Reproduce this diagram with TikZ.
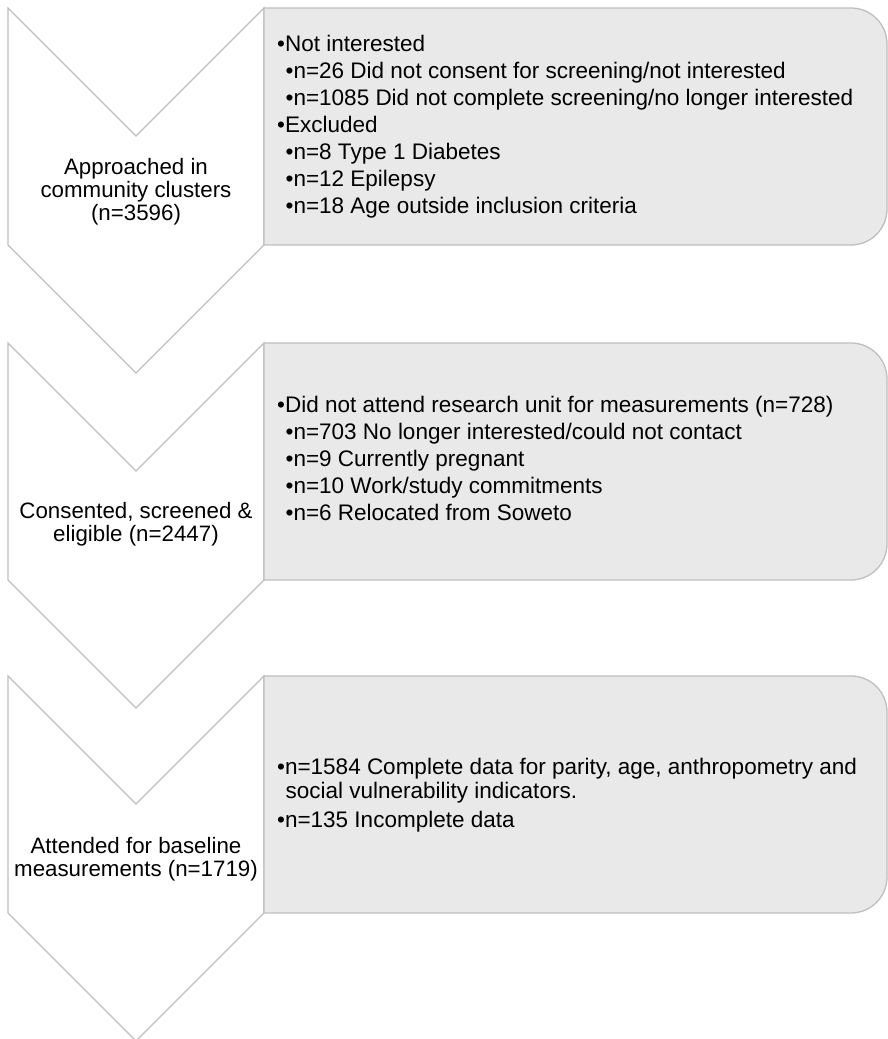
\documentclass[tikz,border=0pt]{standalone}
\usepackage{fontspec}
\setmainfont{Liberation Sans}
\definecolor{edgegray}{HTML}{BFBFBF}
\definecolor{boxfill}{HTML}{E9E9E9}
\begin{document}
\begin{tikzpicture}[x=1pt,y=1pt,
  chev/.style={draw=edgegray, fill=white, line width=1.3pt, line join=miter},
  panel/.style={draw=edgegray, fill=boxfill, line width=1.3pt},
  chevtext/.style={anchor=base, inner sep=0pt, font=\fontsize{22.3}{22.7}\selectfont},
  paneltext/.style={anchor=base west, inner sep=0pt, font=\fontsize{22.5}{27}\selectfont}
]
\useasboundingbox (0,0) rectangle (888,1039);
% chevrons
\draw[chev] (8,1031) -- (136,903) -- (264,1031) -- (264,794) -- (136,666) -- (8,794) -- cycle;
\draw[chev] (8,696) -- (136,568) -- (264,696) -- (264,459) -- (136,331) -- (8,459) -- cycle;
\draw[chev] (8,363) -- (136,235) -- (264,363) -- (264,126) -- (136,-2) -- (8,126) -- cycle;
% panels
\draw[panel] (264,1031) -- (851,1031) arc[start angle=90,end angle=0,radius=36] -- (887,830) arc[start angle=0,end angle=-90,radius=36] -- (264,794) -- cycle;
\draw[panel] (264,696) -- (851,696) arc[start angle=90,end angle=0,radius=36] -- (887,495) arc[start angle=0,end angle=-90,radius=36] -- (264,459) -- cycle;
\draw[panel] (264,363) -- (851,363) arc[start angle=90,end angle=0,radius=36] -- (887,162) arc[start angle=0,end angle=-90,radius=36] -- (264,126) -- cycle;
% chevron texts
\node[chevtext] (c1) at (136,864) {\begin{tabular}[t]{@{}c@{}}Approached in\\community clusters\\(n=3596)\end{tabular}};
\node[chevtext] (c2) at (136,520) {\begin{tabular}[t]{@{}c@{}}Consented, screened \&\\eligible (n=2447)\end{tabular}};
\node[chevtext] (c3) at (136,185) {\begin{tabular}[t]{@{}c@{}}Attended for baseline\\measurements (n=1719)\end{tabular}};
% panel texts
\node[paneltext] (p1) at (277,987.5) {\begin{tabular}[t]{@{}l@{}}%
•Not interested\\
\hspace*{8.5pt}•n=26 Did not consent for screening/not interested\\
\hspace*{8.5pt}•n=1085 Did not complete screening/no longer interested\\
•Excluded\\
\hspace*{8.5pt}•n=8 Type 1 Diabetes\\
\hspace*{8.5pt}•n=12 Epilepsy\\
\hspace*{8.5pt}•n=18 Age outside inclusion criteria\end{tabular}};
\node[paneltext] (p2) at (277,626) {\begin{tabular}[t]{@{}l@{}}%
•Did not attend research unit for measurements (n=728)\\
\hspace*{8.5pt}•n=703 No longer interested/could not contact\\
\hspace*{8.5pt}•n=9 Currently pregnant\\
\hspace*{8.5pt}•n=10 Work/study commitments\\
\hspace*{8.5pt}•n=6 Relocated from Soweto\end{tabular}};
\node[paneltext, font=\fontsize{22.5}{22.5}\selectfont] (p3) at (277,264) {\begin{tabular}[t]{@{}l@{}}%
•n=1584 Complete data for parity, age, anthropometry and\\
\hspace*{8.5pt}social vulnerability indicators.\\[6pt]
•n=135 Incomplete data\end{tabular}};
\end{tikzpicture}
\end{document}
